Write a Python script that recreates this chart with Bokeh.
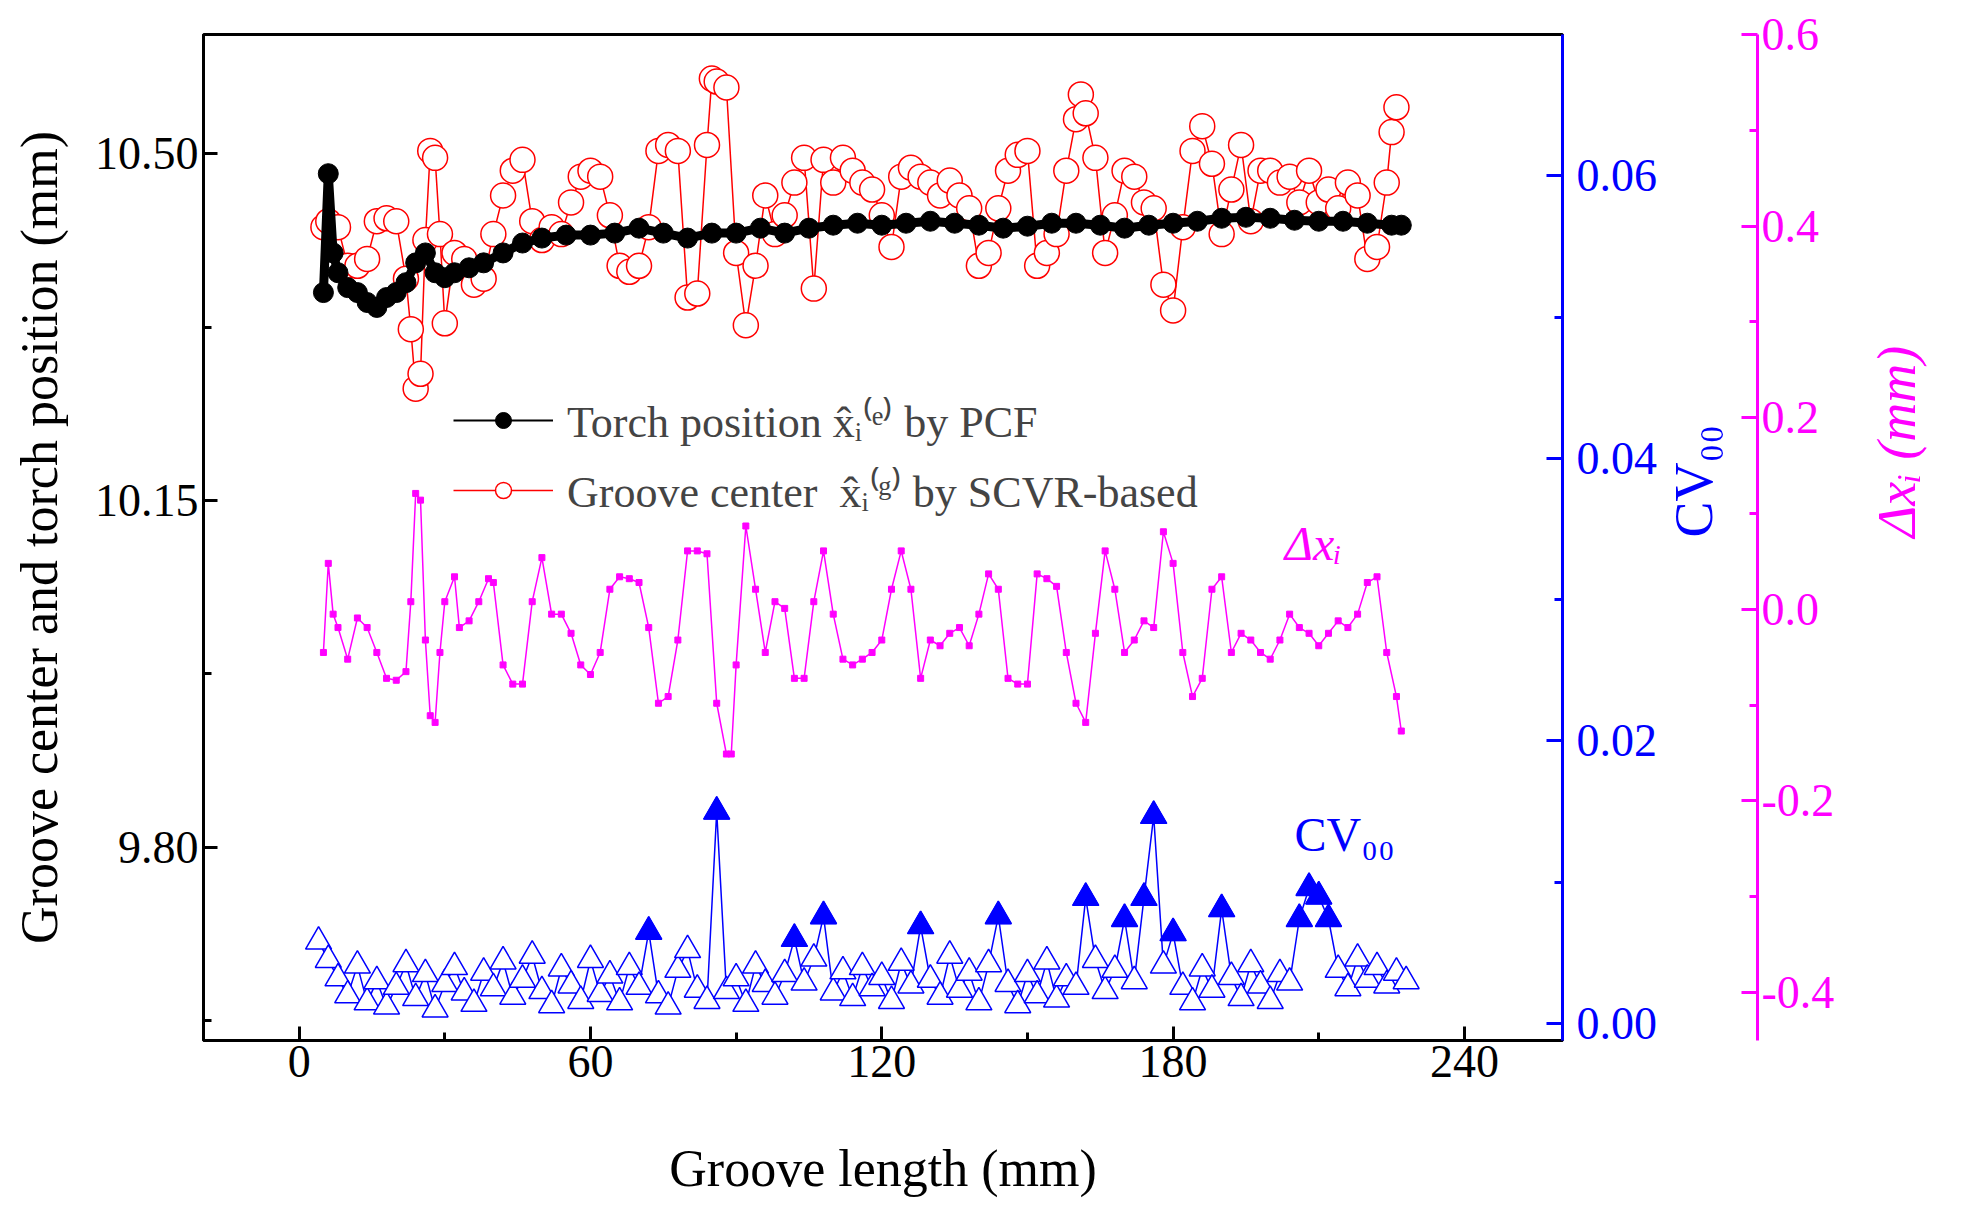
import math
from bokeh.plotting import figure
from bokeh.models import Range1d, LinearAxis, Legend, LegendItem, FixedTicker, Label, CustomJSTickFormatter
from bokeh.embed import file_html
from bokeh.resources import INLINE

torch_x = [5,6,7,8,10,12,14,16,18,20,22,24,26,28,30,32,35,38,42,46,50,55,60,65,70,75,80,85,90,95,100,105,110,115,120,125,130,135,140,145,150,155,160,165,170,175,180,185,190,195,200,205,210,215,220,225,227]
torch_y = [10.36,10.48,10.40,10.38,10.365,10.36,10.35,10.345,10.355,10.36,10.37,10.39,10.40,10.38,10.375,10.38,10.385,10.39,10.40,10.41,10.415,10.418,10.418,10.42,10.425,10.42,10.415,10.42,10.42,10.425,10.42,10.425,10.428,10.43,10.428,10.43,10.432,10.43,10.428,10.425,10.427,10.43,10.43,10.428,10.425,10.428,10.43,10.432,10.435,10.436,10.435,10.433,10.432,10.432,10.43,10.428,10.428]

groove_pts = [(5,10.426),(6,10.432),(8,10.426),(10,10.387),(12,10.387),(14,10.394),(16,10.432),(18,10.435),(20,10.432),(22,10.374),(23,10.323),(24,10.263),(25,10.278),(26,10.413),(27,10.503),(28,10.496),(29,10.419),(30,10.329),(32,10.400),(34,10.394),(36,10.368),(38,10.374),(40,10.419),(42,10.458),(44,10.483),(46,10.494),(48,10.432),(50,10.413),(52,10.426),(54,10.419),(56,10.451),(58,10.477),(60,10.483),(62,10.477),(64,10.438),(66,10.387),(68,10.381),(70,10.387),(72,10.426),(74,10.503),(76,10.509),(78,10.503),(80,10.355),(82,10.359),(84,10.509),(85,10.576),(86,10.573),(88,10.567),(90,10.400),(92,10.327),(94,10.387),(96,10.458),(98,10.419),(100,10.438),(102,10.471),(104,10.496),(106,10.364),(108,10.494),(110,10.471),(112,10.496),(114,10.483),(116,10.471),(118,10.464),(120,10.438),(122,10.406),(124,10.477),(126,10.486),(128,10.477),(130,10.471),(132,10.458),(134,10.473),(136,10.458),(138,10.445),(140,10.387),(142,10.400),(144,10.445),(146,10.483),(148,10.499),(150,10.503),(152,10.387),(154,10.400),(156,10.419),(158,10.483),(160,10.535),(161,10.560),(162,10.541),(164,10.496),(166,10.400),(168,10.438),(170,10.483),(172,10.477),(174,10.451),(176,10.445),(178,10.368),(180,10.342),(182,10.426),(184,10.503),(186,10.528),(188,10.490),(190,10.419),(192,10.464),(194,10.509),(196,10.432),(198,10.483),(200,10.483),(202,10.471),(204,10.477),(206,10.451),(208,10.483),(210,10.451),(212,10.464),(214,10.445),(216,10.471),(218,10.458),(220,10.394),(222,10.406),(224,10.471),(225,10.522),(226,10.547)]
groove_x = [a for a, b in groove_pts]
groove_y = [b for a, b in groove_pts]

dx_pts = [(5,-0.045),(6,0.048),(7,-0.005),(8,-0.019),(10,-0.052),(12,-0.009),(14,-0.019),(16,-0.045),(18,-0.072),(20,-0.074),(22,-0.065),(23,0.008),(24,0.121),(25,0.114),(26,-0.032),(27,-0.111),(28,-0.118),(29,-0.045),(30,0.008),(32,0.034),(33,-0.019),(35,-0.012),(37,0.008),(39,0.032),(40,0.028),(42,-0.058),(44,-0.078),(46,-0.078),(48,0.008),(50,0.054),(52,-0.005),(54,-0.005),(56,-0.025),(58,-0.058),(60,-0.068),(62,-0.045),(64,0.021),(66,0.034),(68,0.032),(70,0.028),(72,-0.019),(74,-0.098),(76,-0.091),(78,-0.032),(80,0.061),(82,0.061),(84,0.058),(86,-0.098),(88,-0.151),(89,-0.151),(90,-0.058),(92,0.087),(94,0.021),(96,-0.045),(98,0.008),(100,0.001),(102,-0.072),(104,-0.072),(106,0.008),(108,0.061),(110,-0.005),(112,-0.052),(114,-0.058),(116,-0.052),(118,-0.045),(120,-0.032),(122,0.021),(124,0.061),(126,0.021),(128,-0.072),(130,-0.032),(132,-0.038),(134,-0.025),(136,-0.019),(138,-0.038),(140,-0.005),(142,0.037),(144,0.021),(146,-0.072),(148,-0.078),(150,-0.078),(152,0.037),(154,0.032),(156,0.024),(158,-0.045),(160,-0.098),(162,-0.118),(164,-0.025),(166,0.061),(168,0.021),(170,-0.045),(172,-0.032),(174,-0.012),(176,-0.019),(178,0.081),(180,0.048),(182,-0.045),(184,-0.091),(186,-0.072),(188,0.021),(190,0.034),(192,-0.045),(194,-0.025),(196,-0.032),(198,-0.045),(200,-0.052),(202,-0.032),(204,-0.005),(206,-0.019),(208,-0.025),(210,-0.038),(212,-0.025),(214,-0.012),(216,-0.019),(218,-0.005),(220,0.028),(222,0.034),(224,-0.045),(226,-0.091),(227,-0.127)]
dx_x = [a for a, b in dx_pts]
dx_y = [b for a, b in dx_pts]

cv_x = list(range(4, 229, 2))
cv_y = [0.0058,0.0045,0.0032,0.0020,0.0041,0.0015,0.0030,0.0012,0.0026,0.0042,
        0.0018,0.0035,0.0010,0.0028,0.0040,0.0022,0.0014,0.0036,0.0025,0.0044,
        0.0019,0.0031,0.0048,0.0023,0.0013,0.0039,0.0027,0.0016,0.0045,0.0021,
        0.0034,0.0015,0.0040,0.0026,0.0065,0.0020,0.0012,0.0038,0.0052,0.0024,
        0.0016,0.0150,0.0023,0.0032,0.0014,0.0041,0.0028,0.0019,0.0035,0.0060,
        0.0029,0.0046,0.0076,0.0022,0.0037,0.0018,0.0040,0.0025,0.0033,0.0016,
        0.0043,0.0027,0.0069,0.0031,0.0019,0.0048,0.0024,0.0036,0.0015,0.0042,
        0.0076,0.0028,0.0013,0.0035,0.0020,0.0044,0.0017,0.0032,0.0026,0.0089,
        0.0045,0.0023,0.0038,0.0074,0.0030,0.0089,0.0147,0.0041,0.0064,0.0026,
        0.0015,0.0039,0.0024,0.0081,0.0033,0.0018,0.0042,0.0027,0.0016,0.0035,
        0.0029,0.0074,0.0096,0.0090,0.0074,0.0038,0.0025,0.0046,0.0031,0.0040,
        0.0027,0.0036,0.0030]
cvf_x = [72,86,102,108,128,144,162,170,174,176,180,190,206,208,210,212]
cvf_y = [0.0065,0.0150,0.0060,0.0076,0.0069,0.0076,0.0089,0.0074,0.0089,0.0147,0.0064,0.0081,0.0074,0.0096,0.0090,0.0074]

FONT = "Liberation Serif"
BLUE = "#0000FF"
MAG = "#FF00FF"

p = figure(width=1960, height=1210, output_backend="svg", toolbar_location=None,
           x_range=Range1d(-19.7, 260.2), y_range=Range1d(9.605, 10.6205),
           min_border_left=203, min_border_top=34, min_border_bottom=170, min_border_right=380)
p.xgrid.visible = False
p.ygrid.visible = False
p.outline_line_color = "black"
p.outline_line_width = 3
p.background_fill_color = "white"

p.extra_y_ranges = {"cv": Range1d(-0.0012, 0.07), "dx": Range1d(-0.45, 0.6)}

for ax in (p.xaxis[0], p.yaxis[0]):
    ax.major_label_text_font = FONT
    ax.major_label_text_font_size = "46px"
    ax.major_label_text_color = "black"
    ax.axis_label_text_color = "black"
    ax.axis_label_text_font = FONT
    ax.axis_label_text_font_size = "52px"
    ax.axis_label_text_font_style = "normal"
    ax.axis_line_width = 3
    ax.major_tick_line_width = 3
    ax.minor_tick_line_width = 3
    ax.major_tick_out = 0
    ax.major_tick_in = 14
    ax.minor_tick_out = 0
    ax.minor_tick_in = 8

p.xaxis.ticker = FixedTicker(ticks=[0, 60, 120, 180, 240], minor_ticks=[30, 90, 150, 210])
p.xaxis.axis_label = "Groove length (mm)"
p.xaxis.axis_label_standoff = 60
p.yaxis.ticker = FixedTicker(ticks=[9.80, 10.15, 10.50], minor_ticks=[9.625, 9.975, 10.325])
p.yaxis.axis_label = "Groove center and torch position (mm)"
p.yaxis.axis_label_standoff = 24
p.yaxis.formatter = CustomJSTickFormatter(code="return tick.toFixed(2);")

cv_axis = LinearAxis(y_range_name="cv", axis_label="CV₀₀",
                     ticker=FixedTicker(ticks=[0.0, 0.02, 0.04, 0.06], minor_ticks=[0.01, 0.03, 0.05]),
                     formatter=CustomJSTickFormatter(code="return tick.toFixed(2);"))
dx_axis = LinearAxis(y_range_name="dx", axis_label="Δxᵢ (mm)",
                     ticker=FixedTicker(ticks=[-0.4, -0.2, 0.0, 0.2, 0.4, 0.6], minor_ticks=[-0.3, -0.1, 0.1, 0.3, 0.5]),
                     formatter=CustomJSTickFormatter(code="return tick.toFixed(1);"))
for ax, col in ((cv_axis, BLUE), (dx_axis, MAG)):
    ax.axis_line_color = col
    ax.major_tick_line_color = col
    ax.minor_tick_line_color = col
    ax.major_label_text_color = col
    ax.axis_label_text_color = col
    ax.major_label_text_font = FONT
    ax.major_label_text_font_size = "46px"
    ax.axis_label_text_font = FONT
    ax.axis_label_text_font_size = "54px"
    ax.axis_label_text_font_style = "normal"
    ax.axis_label_orientation = math.pi / 2
    ax.axis_line_width = 3
    ax.major_tick_line_width = 3
    ax.minor_tick_line_width = 3
    ax.major_tick_out = 0
    ax.major_tick_in = 16
    ax.minor_tick_out = 0
    ax.minor_tick_in = 8
cv_axis.major_label_standoff = 14
cv_axis.axis_label_standoff = 34
dx_axis.major_label_standoff = 4
dx_axis.axis_label_standoff = 60
dx_axis.axis_label_text_font_style = "italic"
p.add_layout(cv_axis, "right")
p.add_layout(dx_axis, "right")

# CV00
p.line(cv_x, cv_y, y_range_name="cv", color=BLUE, line_width=1.5)
p.scatter(cv_x, cv_y, y_range_name="cv", marker="triangle", size=26,
          line_color=BLUE, fill_color="white", line_width=1.5)
p.scatter(cvf_x, cvf_y, y_range_name="cv", marker="triangle", size=26,
          line_color=BLUE, fill_color=BLUE)

# delta x
p.line(dx_x, dx_y, y_range_name="dx", color=MAG, line_width=1.5)
p.scatter(dx_x, dx_y, y_range_name="dx", marker="square", size=6, color=MAG)

# groove center and torch
r_g_line = p.line(groove_x, groove_y, color="red", line_width=1.5)
r_g = p.scatter(groove_x, groove_y, marker="circle", size=25, line_color="red",
                fill_color="white", line_width=1.5)
p.line(torch_x, torch_y, color="black", line_width=9)
r_t_line = p.line(torch_x, torch_y, color="black", line_width=2)
r_t = p.scatter(torch_x, torch_y, marker="circle", size=20, color="black")

legend = Legend(items=[
    LegendItem(label="Torch position x̂ᵢ⁽ᵉ⁾ by PCF", renderers=[r_t_line, r_t]),
    LegendItem(label="Groove center  x̂ᵢ⁽ᵍ⁾ by SCVR-based", renderers=[r_g_line, r_g]),
], location=(240, 510), background_fill_alpha=0, border_line_alpha=0,
    label_text_font=FONT, label_text_font_size="44px", glyph_width=100, glyph_height=40,
    spacing=10, label_standoff=14)
p.add_layout(legend, "center")

p.add_layout(Label(x=203, y=0.041, y_range_name="dx", text="Δxᵢ", text_color=MAG,
                   text_font=FONT, text_font_size="48px", text_font_style="italic"))
p.add_layout(Label(x=205, y=0.0115, y_range_name="cv", text="CV₀₀", text_color=BLUE,
                   text_font=FONT, text_font_size="48px"))

open("out.html", "w").write(file_html(p, INLINE))
